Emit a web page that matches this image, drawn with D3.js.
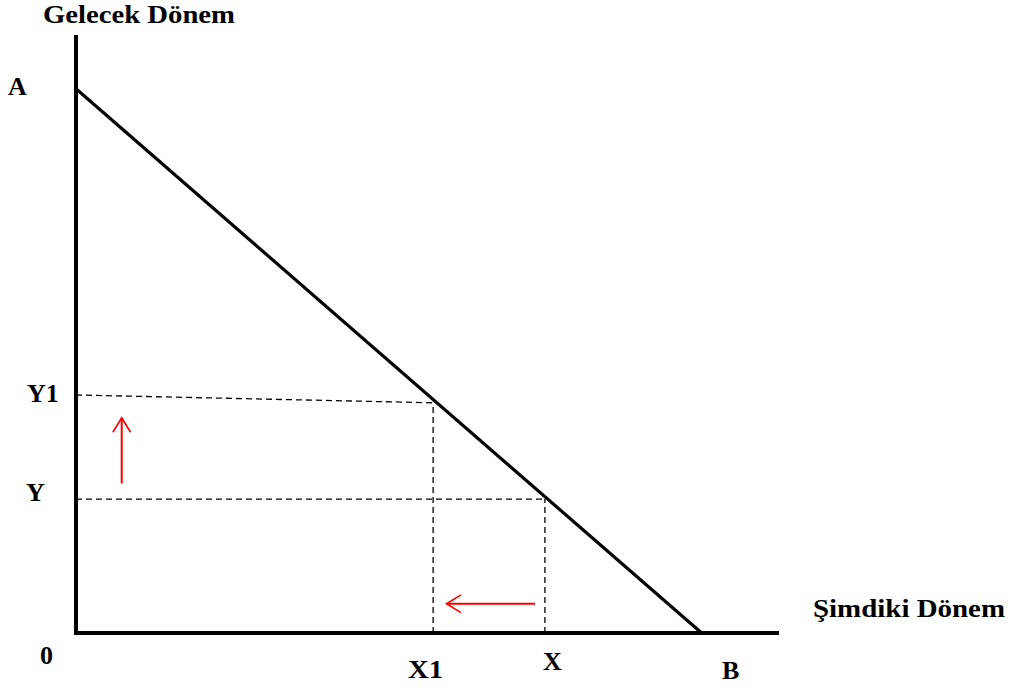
<!DOCTYPE html>
<html>
<head>
    <meta charset="utf-8">
    <title>Gelecek Dönem / Şimdiki Dönem</title>
    <style>
        body { margin: 0; background: #fff; }
        text { font-family: "Liberation Serif", "Times New Roman", serif; font-weight: bold; }
    </style>
</head>
<body>
<div id="chart"></div>
<script src="https://d3js.org/d3.v7.min.js"></script>
<script>

    // budget line endpoints (A on vertical axis, B on horizontal axis)
    var pointA = [0, 91];
    var pointB = [89, 0];
    // consumption levels
    var xLevels = [{ name: "X1", v: 50.8 }, { name: "X", v: 66.7 }];
    var yLevels = [{ name: "Y1", v0: 39.8, v1: 38.5, to: 50.8 }, { name: "Y", v0: 22.4, v1: 22.4, to: 66.7 }];

    var width = 1015, height = 690;

    var svg = d3.select("#chart")
        .append("svg")
        .attr("width", width)
        .attr("height", height);

    var x = d3.scaleLinear().domain([0, 100]).range([76, 779]);
    var y = d3.scaleLinear().domain([0, 100]).range([633, 35]);

    // dashed guides
    yLevels.forEach(function (d) {
        svg.append("line")
            .attr("x1", x(0)).attr("y1", y(d.v0))
            .attr("x2", x(d.to)).attr("y2", y(d.v1))
            .attr("stroke", "#000").attr("stroke-width", 1.3)
            .attr("stroke-dasharray", "6,4");
    });
    xLevels.forEach(function (d, i) {
        svg.append("line")
            .attr("x1", x(d.v)).attr("y1", y(0))
            .attr("x2", x(d.v)).attr("y2", y(yLevels[i].v1))
            .attr("stroke", "#000").attr("stroke-width", 1.3)
            .attr("stroke-dasharray", "6,4");
    });

    // budget line
    svg.append("line")
        .attr("x1", x(pointA[0])).attr("y1", y(pointA[1]))
        .attr("x2", x(pointB[0])).attr("y2", y(pointB[1]))
        .attr("stroke", "#000").attr("stroke-width", 3.2);

    // axes
    svg.append("line")
        .attr("x1", x(0)).attr("y1", y(100))
        .attr("x2", x(0)).attr("y2", y(0) + 2)
        .attr("stroke", "#000").attr("stroke-width", 4);
    svg.append("line")
        .attr("x1", x(0) - 2).attr("y1", y(0))
        .attr("x2", x(100)).attr("y2", y(0))
        .attr("stroke", "#000").attr("stroke-width", 4);

    // red arrows
    function arrow(x1, y1, x2, y2) {
        var ang = Math.atan2(y2 - y1, x2 - x1), h = 17, s = 0.55;
        svg.append("line")
            .attr("x1", x1).attr("y1", y1).attr("x2", x2).attr("y2", y2)
            .attr("stroke", "red").attr("stroke-width", 2);
        svg.append("path")
            .attr("d", "M" + (x2 - h * Math.cos(ang - s)) + "," + (y2 - h * Math.sin(ang - s)) +
                "L" + x2 + "," + y2 +
                "L" + (x2 - h * Math.cos(ang + s)) + "," + (y2 - h * Math.sin(ang + s)))
            .attr("fill", "none").attr("stroke", "red").attr("stroke-width", 1.6);
    }
    arrow(x(6.5), y(25), x(6.5), y(36));
    arrow(x(65.3), y(4.9), x(52.7), y(4.9));

    // labels
    function label(t, px, py, len) {
        var el = svg.append("text")
            .attr("x", px).attr("y", py)
            .style("font-size", "26px")
            .text(t);
        if (len) el.attr("textLength", len).attr("lengthAdjust", "spacingAndGlyphs");
    }
    label("Gelecek Dönem", 43, 23, 192);
    label("A", 8, 95);
    label("Y1", 27, 402);
    label("Y", 26, 501);
    label("0", 40, 664);
    label("X1", 408, 678, 35);
    label("X", 543, 670);
    label("B", 722, 679);
    label("Şimdiki Dönem", 813, 617, 192);

</script>
</body>
</html>
